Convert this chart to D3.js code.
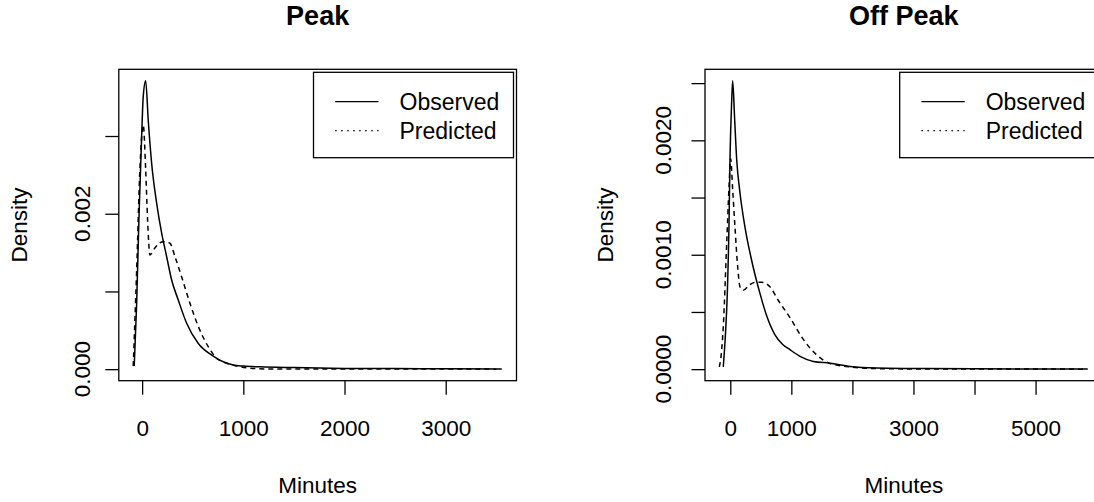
<!DOCTYPE html>
<html>
<head>
<meta charset="utf-8">
<script src="https://cdn.jsdelivr.net/npm/d3@7/dist/d3.min.js"></script>
<style>
html,body{margin:0;padding:0;background:#fff;}
svg{display:block;font-family:"Liberation Sans",Arial,Helvetica,sans-serif;}
</style>
</head>
<body>
<svg id="chart" width="1094" height="502"></svg>
<script>
// ---------------- data ----------------
const panelTitles = ["Peak", "Off Peak"];
const seriesNames = ["Observed", "Predicted"];
const xAxisTitle = "Minutes";
const yAxisTitle = "Density";

// Peak panel
const peakObsX = [-78, -54, -32, -5, 11, 35, 60, 94, 143, 193, 242, 291, 357, 440, 555, 687, 818, 900, 1000, 1164, 1500, 2000, 2500, 3000, 3554];
const peakObsY = [0.00004, 0.00085, 0.00192, 0.00299, 0.00351, 0.00371, 0.00321, 0.00265, 0.00214, 0.00175, 0.00145, 0.00115, 0.00089, 0.00059, 0.00033, 0.00018, 0.000085, 0.000055, 0.00004, 0.00003, 0.00002, 0.00001, 0.000007, 0.000005, 0.000003];
const peakPredX = [-88, -54, -22, 11, 35, 54, 77, 126, 209, 275, 324, 390, 472, 555, 653, 736, 818, 900, 1065, 1263, 1500, 2000, 2500, 3000, 3500];
const peakPredY = [0.00004, 0.00128, 0.00257, 0.00314, 0.00257, 0.00192, 0.00147, 0.00156, 0.00164, 0.00162, 0.00145, 0.00119, 0.00085, 0.00055, 0.00029, 0.00014, 0.000085, 0.00005, 0.000013, 0.000001, 0.000002, 0.000003, 0.000002, 0.000001, 0.0000005];
const peakXData = [-85, 3554];
const peakYData = [0, 0.00371];
const peakXTicks = [0, 1000, 2000, 3000];
const peakXLabels = ["0", "1000", "2000", "3000"];
const peakYTicks = [0, 0.001, 0.002, 0.003];
const peakYLabels = ["0.000", "", "0.002", ""];

// Off Peak panel
const offObsX = [-115, -80, -49, -20, -5, 20, 39, 70, 105, 159, 241, 350, 487, 600, 732, 850, 978, 1150, 1360, 1633, 1961, 2398, 3000, 4000, 5000, 5850];
const offObsY = [0.00002, 0.0003, 0.00066, 0.0013, 0.00183, 0.0023, 0.00252, 0.0022, 0.00183, 0.00154, 0.00124, 0.00095, 0.00066, 0.00046, 0.0003, 0.00022, 0.00017, 0.00011, 0.000067, 0.000052, 0.000023, 0.00001, 0.000006, 0.000003, 0.000002, 0.000001];
const offPredX = [-180, -150, -115, -59, -20, 6, 40, 77, 120, 159, 213, 323, 420, 514, 650, 787, 978, 1196, 1415, 1633, 1961, 2398, 3000, 4000, 5000, 5850];
const offPredY = [0.00002, 0.00012, 0.00037, 0.0011, 0.0016, 0.00184, 0.00156, 0.00124, 0.0009, 0.00072, 0.00069, 0.00074, 0.00076, 0.00076, 0.00072, 0.0006, 0.00045, 0.00026, 0.000125, 0.00005, 0.00002, 0.000005, 0.000002, 0.000001, 0.000001, 0];
const offXData = [-173, 5858];
const offYData = [0, 0.00252];
const offXTicks = [0, 1000, 2000, 3000, 4000, 5000, 6000];
const offXLabels = ["0", "1000", "", "3000", "", "5000", ""];
const offYTicks = [0, 0.0005, 0.001, 0.0015, 0.002, 0.0025];
const offYLabels = ["0.0000", "", "0.0010", "", "0.0020", ""];

// ---------------- drawing ----------------
const svg = d3.select("#chart");
const FONT = 22.5;

function padExt(ext) { const r = ext[1] - ext[0]; return [ext[0] - 0.04 * r, ext[1] + 0.04 * r]; }

const panels = [
  { title: panelTitles[0], left: 118.8, right: 516.5, yLabBase: 90, yTitleBase: 27.3,
    xData: peakXData, yData: peakYData, xTicks: peakXTicks, xLabels: peakXLabels,
    yTicks: peakYTicks, yLabels: peakYLabels,
    obs: peakObsX.map((x, i) => [x, peakObsY[i]]), pred: peakPredX.map((x, i) => [x, peakPredY[i]]) },
  { title: panelTitles[1], left: 705, right: 1102.7, yLabBase: 671, yTitleBase: 613,
    xData: offXData, yData: offYData, xTicks: offXTicks, xLabels: offXLabels,
    yTicks: offYTicks, yLabels: offYLabels,
    obs: offObsX.map((x, i) => [x, offObsY[i]]), pred: offPredX.map((x, i) => [x, offPredY[i]]) }
];
const plotTop = 69.3, plotBottom = 380.7;

panels.forEach(p => {
  const g = svg.append("g");
  const x = d3.scaleLinear().domain(padExt(p.xData)).range([p.left, p.right]);
  const y = d3.scaleLinear().domain(padExt(p.yData)).range([plotBottom, plotTop]);
  const cx = (p.left + p.right) / 2;

  // title
  g.append("text").attr("x", cx).attr("y", 24.5).attr("text-anchor", "middle")
    .attr("font-size", FONT * 1.2).attr("font-weight", "bold").text(p.title);

  // x axis
  const xa = g.append("g").attr("transform", `translate(0,${plotBottom})`)
    .call(d3.axisBottom(x).tickValues(p.xTicks).tickSize(14).tickPadding(0).tickFormat(() => ""));
  xa.select(".domain").remove();
  xa.selectAll(".tick line").attr("stroke", "#000").attr("stroke-width", 1.3);
  xa.selectAll(".tick").append("text").attr("class", "lab")
    .attr("y", 436 - plotBottom).attr("text-anchor", "middle").attr("fill", "#000")
    .attr("font-size", FONT).text((d, i) => p.xLabels[i]);

  // y axis
  const ya = g.append("g").attr("transform", `translate(${p.left},0)`)
    .call(d3.axisLeft(y).tickValues(p.yTicks).tickSize(13.5).tickFormat(() => ""));
  ya.select(".domain").remove();
  ya.selectAll(".tick line").attr("stroke", "#000").attr("stroke-width", 1.3);
  p.yTicks.forEach((t, i) => {
    if (!p.yLabels[i]) return;
    g.append("text").attr("transform", `translate(${p.yLabBase},${y(t)}) rotate(-90)`)
      .attr("text-anchor", "middle").attr("font-size", FONT).text(p.yLabels[i]);
  });

  // axis titles
  g.append("text").attr("x", cx).attr("y", 493).attr("text-anchor", "middle")
    .attr("font-size", FONT).text(xAxisTitle);
  g.append("text").attr("transform", `translate(${p.yTitleBase},${(plotTop + plotBottom) / 2}) rotate(-90)`)
    .attr("text-anchor", "middle").attr("font-size", FONT).text(yAxisTitle);

  // curves
  const line = d3.line().x(d => x(d[0])).y(d => y(d[1])).curve(d3.curveMonotoneX);
  g.append("path").datum(p.obs).attr("d", line).attr("fill", "none")
    .attr("stroke", "#000").attr("stroke-width", 1.5);
  g.append("path").datum(p.pred).attr("d", line).attr("fill", "none")
    .attr("stroke", "#000").attr("stroke-width", 1.5).attr("stroke-dasharray", "5,4");

  // box
  g.append("rect").attr("x", p.left).attr("y", plotTop).attr("width", p.right - p.left)
    .attr("height", plotBottom - plotTop).attr("fill", "none").attr("stroke", "#000").attr("stroke-width", 1.3);

  // legend
  const lx = p.right - 203, ly = 72.3;
  const lg = g.append("g");
  lg.append("rect").attr("x", lx).attr("y", ly).attr("width", 200).attr("height", 85.4)
    .attr("fill", "#fff").attr("stroke", "#000").attr("stroke-width", 1.3);
  const rows = [{ name: seriesNames[0], dash: null, y: 101.7, base: 110 },
                { name: seriesNames[1], dash: "1.5,4.5", y: 130.7, base: 138.5 }];
  rows.forEach(r => {
    lg.append("line").attr("x1", lx + 21.7).attr("x2", lx + 65).attr("y1", r.y).attr("y2", r.y)
      .attr("stroke", "#000").attr("stroke-width", 1.3).attr("stroke-dasharray", r.dash);
    lg.append("text").attr("x", lx + 86).attr("y", r.base).attr("font-size", 23).text(r.name);
  });
});
</script>
</body>
</html>
